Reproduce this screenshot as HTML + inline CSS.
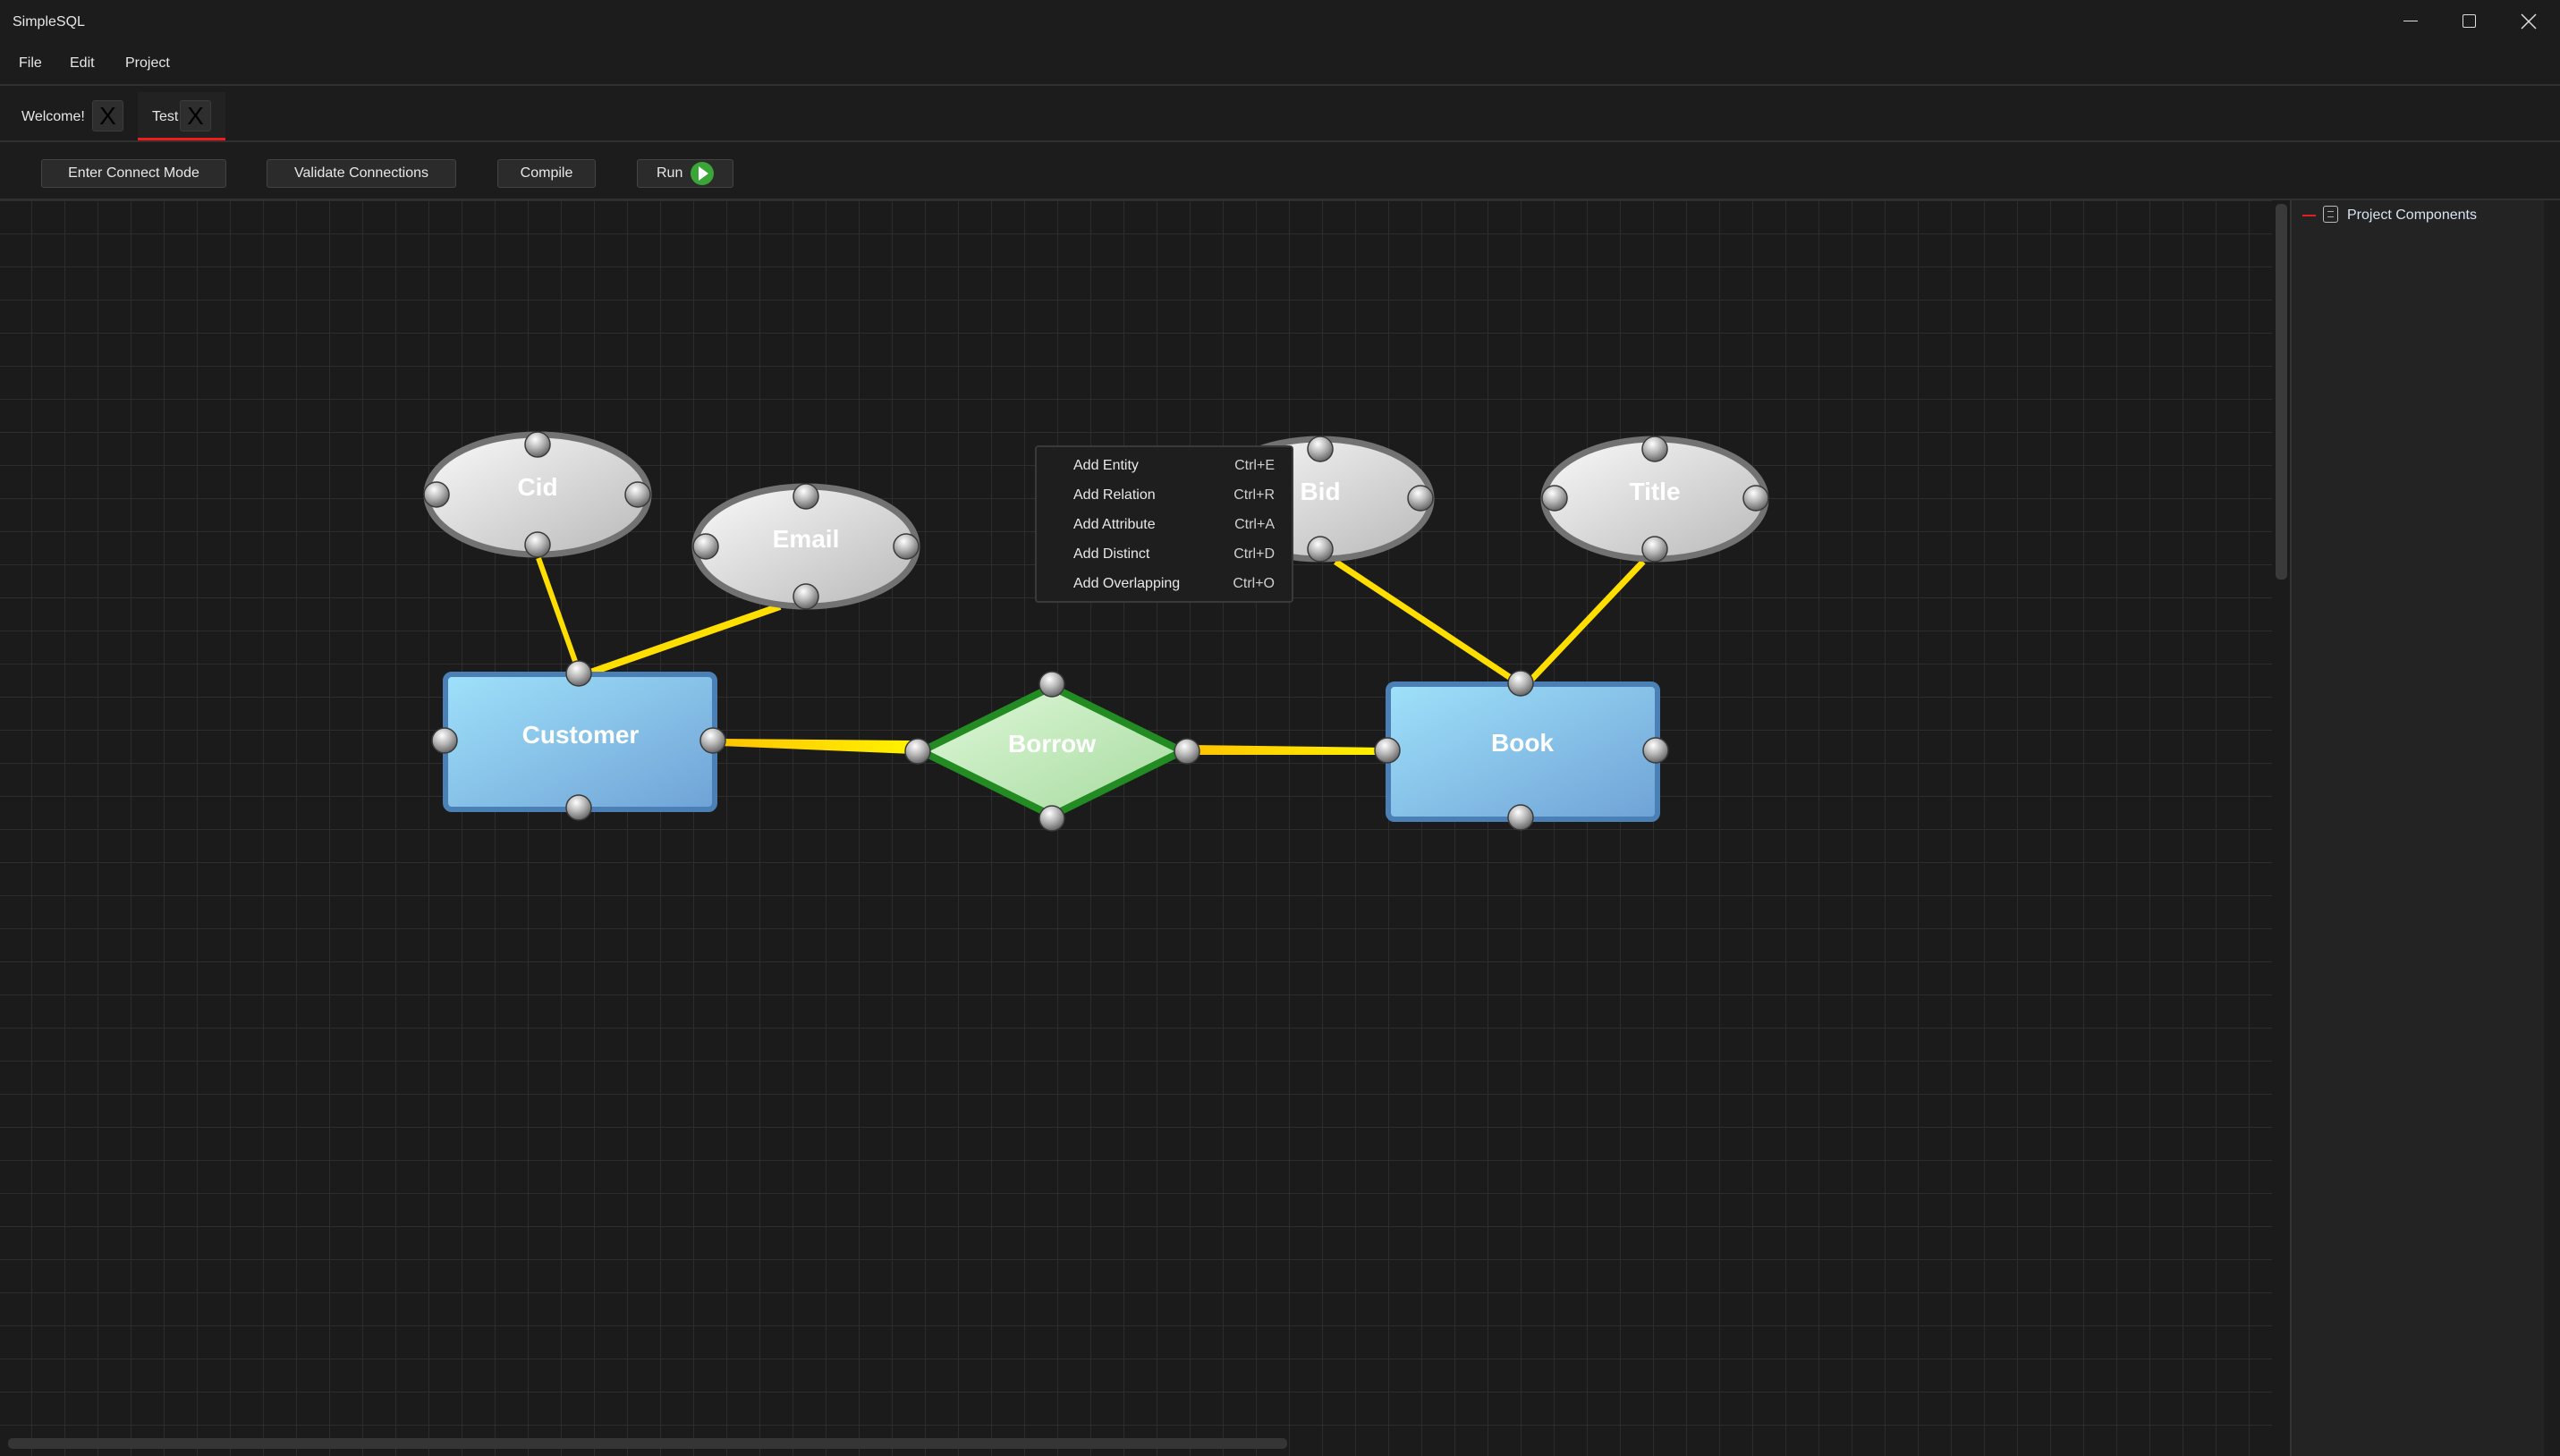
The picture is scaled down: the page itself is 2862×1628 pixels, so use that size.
<!DOCTYPE html>
<html><head><meta charset="utf-8"><style>
*{margin:0;padding:0;box-sizing:border-box}
body{width:2862px;height:1628px;background:#1c1c1c;overflow:hidden;position:relative;font-family:"Liberation Sans",sans-serif;color:#e6e6e6}
.a{position:absolute;white-space:nowrap}
.t{font-size:16px;line-height:20px}
.btn{position:absolute;top:178px;height:32px;background:#2b2b2b;border:1px solid #444;border-radius:3px;font-size:16px;line-height:30px;text-align:center;color:#e8e8e8}
.x{position:absolute;width:35px;height:35px;background:#2e2e2e;border:1px solid #3c3c3c;border-radius:3px;color:#000;font-size:28px;line-height:33px;text-align:center}
.sep{position:absolute;left:0;width:2862px;height:2px;background:#303030}
.mi{position:absolute;left:1200px;font-size:16px;line-height:20px;color:#e8e8e8}
.ms{position:absolute;right:1437px;font-size:16px;line-height:20px;color:#cfcfcf}
</style></head><body>
<div class="a t" style="left:14px;top:15px">SimpleSQL</div>
<div class="a t" style="left:21px;top:61px">File</div>
<div class="a t" style="left:78px;top:61px">Edit</div>
<div class="a t" style="left:140px;top:61px">Project</div>
<div class="a" style="left:2687px;top:23px;width:16px;height:1px;background:#ddd"></div>
<div class="a" style="left:2753px;top:16px;width:15px;height:15px;border:1.5px solid #ddd;border-radius:2px"></div>
<svg class="a" style="left:2818px;top:15px" width="18" height="18"><path d="M1 1L17 17M17 1L1 17" stroke="#ddd" stroke-width="1.5"/></svg>
<div class="sep" style="top:94px"></div>
<div class="a t" style="left:24px;top:121px">Welcome!</div>
<div class="x" style="left:103px;top:112px">X</div>
<div class="a" style="left:154px;top:103px;width:98px;height:55px;background:#222"></div>
<div class="a t" style="left:170px;top:121px">Test</div>
<div class="x" style="left:201px;top:112px">X</div>
<div class="a" style="left:154px;top:154px;width:98px;height:4px;background:#ee1c1c"></div>
<div class="sep" style="top:157px"></div>
<div class="btn" style="left:46px;width:207px">Enter Connect Mode</div>
<div class="btn" style="left:298px;width:212px">Validate Connections</div>
<div class="btn" style="left:556px;width:110px">Compile</div>
<div class="btn" style="left:712px;width:108px;text-align:left;padding-left:21px">Run</div>
<svg class="a" style="left:771px;top:180px" width="28" height="28"><circle cx="14" cy="14" r="13" fill="#3aa637"/><path d="M10 6L21 14L10 22Z" fill="#fff"/></svg>
<div class="sep" style="top:222px"></div>
<svg class="a" style="left:0;top:224px" width="2560" height="1404">
<defs>
<pattern id="g" width="37" height="37" patternUnits="userSpaceOnUse" x="-1" y="1"><path d="M37 0V37M0 37H37" stroke="#2d2d2d" stroke-width="2" fill="none"/></pattern>
</defs>
<rect width="2560" height="1404" fill="#1b1b1b"/>
<rect width="2540" height="1404" fill="url(#g)"/>
<rect x="2544" y="4" width="13" height="420" rx="5" fill="#3a3a3a"/>
<rect x="9" y="1384" width="1430" height="12" rx="5" fill="#353535"/>
</svg>
<svg class="a" style="left:0;top:0" width="2560" height="1628" font-family="Liberation Sans, sans-serif">
<defs>
<linearGradient id="el" x1="0" y1="0" x2="1" y2="1"><stop offset="0" stop-color="#fafafa"/><stop offset="1" stop-color="#b8b8b8"/></linearGradient>
<linearGradient id="bl" x1="0" y1="0" x2="1" y2="1"><stop offset="0" stop-color="#9fe1fa"/><stop offset="1" stop-color="#6fa2d6"/></linearGradient>
<linearGradient id="gr" x1="0" y1="0" x2="1" y2="1"><stop offset="0" stop-color="#e0f8da"/><stop offset="1" stop-color="#a5da9d"/></linearGradient>
<linearGradient id="yl" x1="0" y1="0" x2="1" y2="0"><stop offset="0" stop-color="#ffc400"/><stop offset="1" stop-color="#fff200"/></linearGradient>
<radialGradient id="pt" cx="0.4" cy="0.3" r="0.7"><stop offset="0" stop-color="#ffffff"/><stop offset="0.5" stop-color="#b8b8b8"/><stop offset="1" stop-color="#666"/></radialGradient>
<g id="p"><ellipse rx="14" ry="14" fill="url(#pt)" stroke="#3a3a3a" stroke-width="1.5"/></g>
</defs>
<g stroke="#ffde00" stroke-linecap="butt">
<line x1="602" y1="624" x2="645" y2="745" stroke-width="6"/>
<line x1="872" y1="678" x2="660" y2="752" stroke-width="8"/>
<line x1="1493" y1="628" x2="1695" y2="762" stroke-width="7"/>
<line x1="1837" y1="628" x2="1710" y2="762" stroke-width="7"/>
</g>
<polygon points="805,826 1020,828 1020,843 805,834" fill="url(#yl)"/>
<polygon points="1330,833 1550,836 1550,844 1330,844" fill="url(#yl)"/>
<g stroke="#727272" stroke-width="7" fill="url(#el)">
<ellipse cx="601" cy="553" rx="124" ry="67"/>
<ellipse cx="901" cy="611" rx="124" ry="67"/>
<ellipse cx="1476" cy="558" rx="124" ry="67"/>
<ellipse cx="1850" cy="558" rx="124" ry="67"/>
</g>
<rect x="498" y="754" width="301" height="151" rx="7" fill="url(#bl)" stroke="#4a80b6" stroke-width="6"/>
<rect x="1552" y="765" width="301" height="151" rx="7" fill="url(#bl)" stroke="#4a80b6" stroke-width="6"/>
<polygon points="1176,768 1322,840 1176,912 1030,840" fill="url(#gr)" stroke="#228b22" stroke-width="8" stroke-linejoin="miter"/>
<g fill="#fff" font-weight="bold" font-size="28" text-anchor="middle">
<text x="601" y="554">Cid</text>
<text x="901" y="612">Email</text>
<text x="1476" y="559">Bid</text>
<text x="1850" y="559">Title</text>
<text x="649" y="831">Customer</text>
<text x="1176" y="841">Borrow</text>
<text x="1702" y="840">Book</text>
</g>
<use href="#p" x="601" y="497"/><use href="#p" x="488" y="553"/><use href="#p" x="713" y="553"/><use href="#p" x="601" y="609"/>
<use href="#p" x="901" y="555"/><use href="#p" x="789" y="611"/><use href="#p" x="1013" y="611"/><use href="#p" x="901" y="667"/>
<use href="#p" x="1476" y="502"/><use href="#p" x="1588" y="557"/><use href="#p" x="1476" y="614"/>
<use href="#p" x="1850" y="502"/><use href="#p" x="1738" y="557"/><use href="#p" x="1963" y="557"/><use href="#p" x="1850" y="614"/>
<use href="#p" x="647" y="753"/><use href="#p" x="497" y="828"/><use href="#p" x="797" y="828"/><use href="#p" x="647" y="903"/>
<use href="#p" x="1176" y="765"/><use href="#p" x="1026" y="840"/><use href="#p" x="1327" y="840"/><use href="#p" x="1176" y="915"/>
<use href="#p" x="1700" y="764"/><use href="#p" x="1551" y="839"/><use href="#p" x="1851" y="839"/><use href="#p" x="1700" y="914"/>
</svg>
<div class="a" style="left:1157px;top:498px;width:289px;height:176px;background:#1e1e1e;border:2px solid #3a3a3a;border-radius:4px"></div>
<div class="mi" style="top:511px">Add Entity</div><div class="ms" style="top:511px">Ctrl+E</div>
<div class="mi" style="top:544px">Add Relation</div><div class="ms" style="top:544px">Ctrl+R</div>
<div class="mi" style="top:577px">Add Attribute</div><div class="ms" style="top:577px">Ctrl+A</div>
<div class="mi" style="top:610px">Add Distinct</div><div class="ms" style="top:610px">Ctrl+D</div>
<div class="mi" style="top:643px">Add Overlapping</div><div class="ms" style="top:643px">Ctrl+O</div>
<div class="a" style="left:2560px;top:224px;width:2px;height:1404px;background:#333"></div>
<div class="a" style="left:2562px;top:224px;width:282px;height:1404px;background:#232323"></div>
<div class="a" style="left:2574px;top:240px;width:15px;height:2px;background:#e02020"></div>
<div class="a" style="left:2597px;top:230px;width:17px;height:19px;border:1.5px solid #bbb;border-radius:3px"></div>
<div class="a" style="left:2602px;top:236px;width:7px;height:7px;border-top:1px solid #aaa;border-bottom:1px solid #aaa"></div>
<div class="a t" style="left:2624px;top:231px;color:#d8e4f0">Project Components</div>
</body></html>
